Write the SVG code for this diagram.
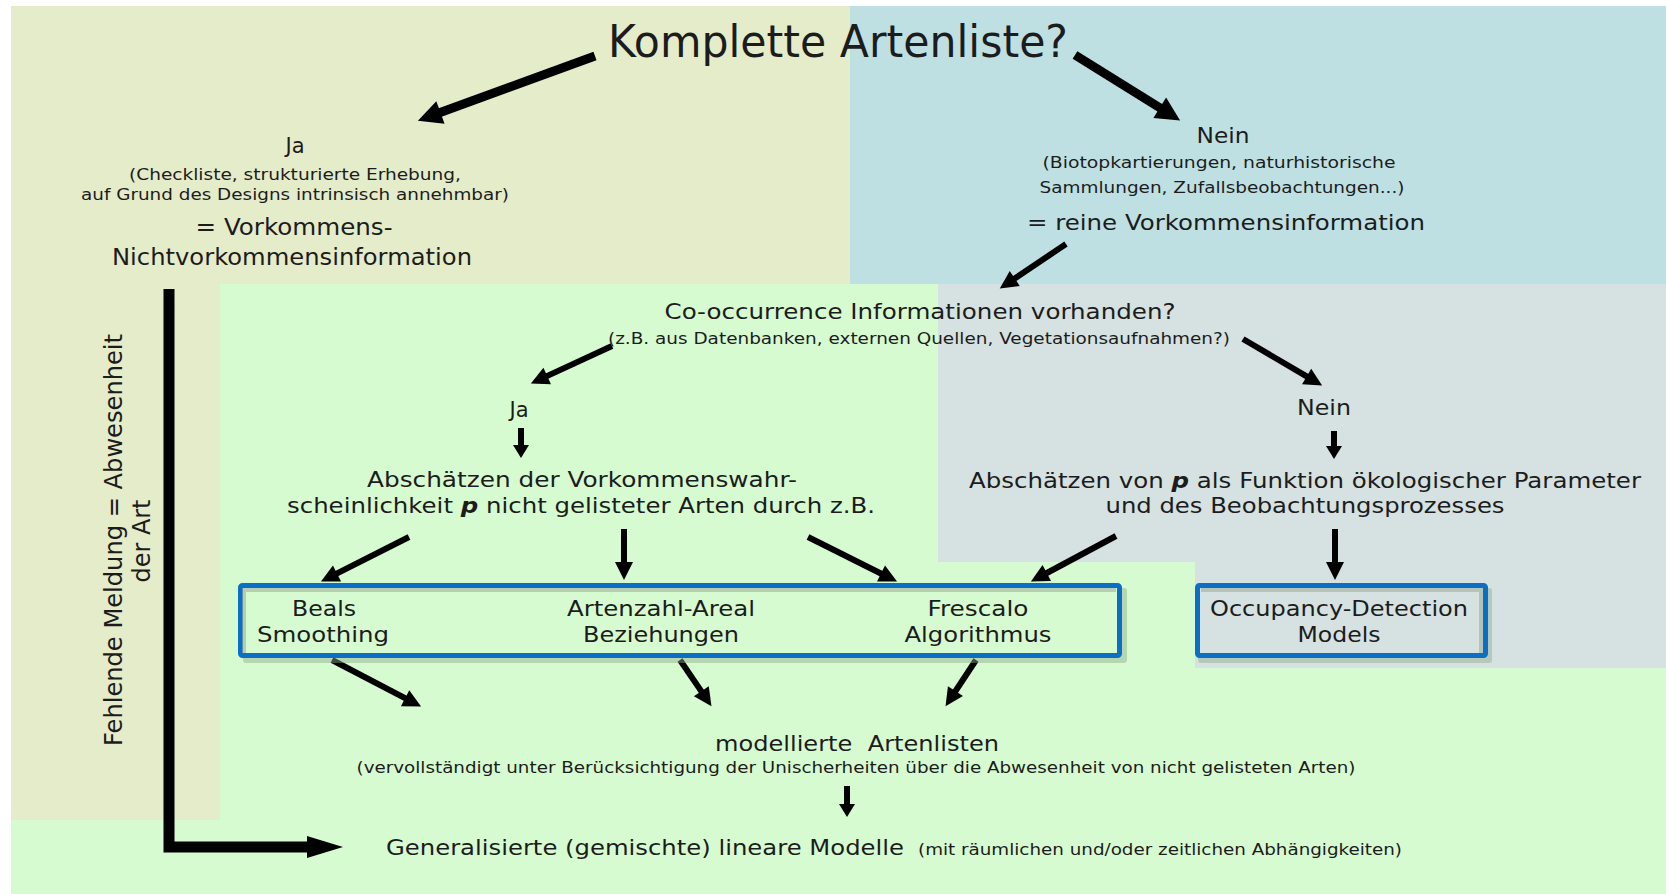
<svg xmlns="http://www.w3.org/2000/svg" width="1666" height="894" viewBox="0 0 1666 894">
<style>
text{font-family:"DejaVu Sans","Verdana","Liberation Sans",sans-serif;fill:#1c1c1c;}
.c{text-anchor:middle;}
.t44{font-size:44px;}
.t23{font-size:23px;}
.t22{font-size:22px;}
.t21{font-size:21px;}
.t16{font-size:16px;}
.t15{font-size:15px;}
.arB{stroke:#000;stroke-width:9;fill:none;marker-end:url(#mBig);}
.arM{stroke:#000;stroke-width:6;fill:none;marker-end:url(#mMed);}
.arS{stroke:#000;stroke-width:6;fill:none;marker-end:url(#mSmall);}
.arL{stroke:#000;stroke-width:11;fill:none;marker-end:url(#mL);}
.box{stroke:#0b6fc6;stroke-width:5;}
.shadow{fill:#8fa88c;opacity:0.45;}
.inner{fill:none;stroke:#9aab98;stroke-width:4;opacity:0.55;}
.pp{font-weight:bold;font-style:italic;}
</style>
<defs>
<marker id="mBig" markerUnits="userSpaceOnUse" markerWidth="24" markerHeight="24" refX="1" refY="12" orient="auto" overflow="visible"><path d="M0,0 L24,12 L0,24 z" fill="#000"/></marker>
<marker id="mMed" markerUnits="userSpaceOnUse" markerWidth="18" markerHeight="18" refX="1" refY="9" orient="auto" overflow="visible"><path d="M0,0 L18,9 L0,18 z" fill="#000"/></marker>
<marker id="mSmall" markerUnits="userSpaceOnUse" markerWidth="13" markerHeight="16" refX="1" refY="8" orient="auto" overflow="visible"><path d="M0,0 L13,8 L0,16 z" fill="#000"/></marker>
<marker id="mL" markerUnits="userSpaceOnUse" markerWidth="36" markerHeight="22" refX="1" refY="11" orient="auto" overflow="visible"><path d="M0,0 L36,11 L0,22 z" fill="#000"/></marker>
</defs>

<g id="background">
<rect x="0" y="0" width="1666" height="894" fill="#ffffff"/>
<rect x="11" y="6" width="1655" height="888" fill="#d7fbd1"/>
<polygon points="11,6 850,6 850,284 220,284 220,820 11,820" fill="#e5ecca"/>
<rect x="850" y="6" width="816" height="278" fill="#bfe0e2"/>
<polygon points="938,284 1666,284 1666,668 1195,668 1195,562 938,562" fill="#d5e2e1"/>
</g>

<g id="connectors">
<line class="arB" x1="595" y1="56" x2="439.5" y2="112.8"/>
<line class="arB" x1="1075" y1="55" x2="1160.6" y2="108.3"/>
<line class="arM" x1="1066" y1="244" x2="1013.9" y2="279"/>
<line class="arM" x1="612" y1="346" x2="546.3" y2="376.4"/>
<line class="arM" x1="1243" y1="339" x2="1307.5" y2="376.9"/>
<line class="arS" x1="521" y1="428" x2="521" y2="446"/>
<line class="arS" x1="1334" y1="431" x2="1334" y2="447"/>
<line class="arM" x1="409" y1="537" x2="336.1" y2="573.9"/>
<line class="arM" x1="624" y1="529" x2="624" y2="563"/>
<line class="arM" x1="808" y1="537" x2="881.9" y2="574"/>
<line class="arM" x1="1116" y1="536" x2="1045.9" y2="573.5"/>
<line class="arM" x1="1335" y1="529" x2="1335" y2="563"/>
<line class="arM" x1="332" y1="660" x2="406" y2="698.7"/>
<line class="arM" x1="680" y1="660" x2="701.9" y2="692.1"/>
<line class="arM" x1="976" y1="660" x2="954.9" y2="692"/>
<line class="arS" x1="847" y1="786" x2="847" y2="805"/>
<path class="arL" d="M169,289 V847 H308"/>
</g>

<g id="title">
<text class="c t44" x="838" y="57" textLength="460" lengthAdjust="spacingAndGlyphs">Komplette Artenliste?</text>
</g>

<g id="ja-top">
<text class="c t21" x="295" y="153">Ja</text>
<text class="c t16" x="295" y="180" textLength="332" lengthAdjust="spacingAndGlyphs">(Checkliste, strukturierte Erhebung,</text>
<text class="c t16" x="295" y="200" textLength="428" lengthAdjust="spacingAndGlyphs">auf Grund des Designs intrinsisch annehmbar)</text>
<text class="c t23" x="294" y="235" textLength="197" lengthAdjust="spacingAndGlyphs">= Vorkommens-</text>
<text class="c t23" x="292" y="265" textLength="360" lengthAdjust="spacingAndGlyphs">Nichtvorkommensinformation</text>
</g>

<g id="nein-top">
<text class="c t21" x="1223" y="143" textLength="53" lengthAdjust="spacingAndGlyphs">Nein</text>
<text class="c t16" x="1219" y="168" textLength="353" lengthAdjust="spacingAndGlyphs">(Biotopkartierungen, naturhistorische</text>
<text class="c t16" x="1222" y="193" textLength="365" lengthAdjust="spacingAndGlyphs">Sammlungen, Zufallsbeobachtungen...)</text>
<text class="c t22" x="1226" y="230" textLength="398" lengthAdjust="spacingAndGlyphs">= reine Vorkommensinformation</text>
</g>

<g id="cooccurrence">
<text class="c t21" x="920" y="319" textLength="511" lengthAdjust="spacingAndGlyphs">Co-occurrence Informationen vorhanden?</text>
<text class="c t15" x="919" y="344" textLength="622" lengthAdjust="spacingAndGlyphs">(z.B. aus Datenbanken, externen Quellen, Vegetationsaufnahmen?)</text>
</g>

<g id="ja-mid">
<text class="c t21" x="519" y="417">Ja</text>
</g>

<g id="abschaetzen-ja">
<text class="c t21" x="582" y="487" textLength="430" lengthAdjust="spacingAndGlyphs">Abschätzen der Vorkommenswahr-</text>
<text class="c t21" x="581" y="513" textLength="588" lengthAdjust="spacingAndGlyphs">scheinlichkeit <tspan class="pp">p</tspan> nicht gelisteter Arten durch z.B.</text>
</g>

<g id="nein-mid">
<text class="c t21" x="1324" y="415" textLength="54" lengthAdjust="spacingAndGlyphs">Nein</text>
</g>

<g id="abschaetzen-nein">
<text class="c t21" x="1305" y="488" textLength="672" lengthAdjust="spacingAndGlyphs">Abschätzen von <tspan class="pp">p</tspan> als Funktion ökologischer Parameter</text>
<text class="c t21" x="1305" y="513" textLength="399" lengthAdjust="spacingAndGlyphs">und des Beobachtungsprozesses</text>
</g>

<g id="methods-box">
<rect class="shadow" x="243" y="588" width="884" height="75" rx="3"/>
<rect class="box" x="240.5" y="585.5" width="879" height="70" rx="2" fill="#d7fbd1"/>
<path class="inner" d="M244,653 V590 H1116"/>
<text class="c t22" x="324" y="616" textLength="64" lengthAdjust="spacingAndGlyphs">Beals</text>
<text class="c t22" x="323" y="642" textLength="132" lengthAdjust="spacingAndGlyphs">Smoothing</text>
<text class="c t22" x="661" y="616" textLength="188" lengthAdjust="spacingAndGlyphs">Artenzahl-Areal</text>
<text class="c t22" x="661" y="642" textLength="156" lengthAdjust="spacingAndGlyphs">Beziehungen</text>
<text class="c t22" x="978" y="616" textLength="101" lengthAdjust="spacingAndGlyphs">Frescalo</text>
<text class="c t22" x="978" y="642" textLength="147" lengthAdjust="spacingAndGlyphs">Algorithmus</text>
</g>

<g id="occupancy-box">
<rect class="shadow" x="1198" y="588" width="294" height="75" rx="3"/>
<rect class="box" x="1197.5" y="585.5" width="288" height="70" rx="2" fill="#d5e2e1"/>
<path class="inner" d="M1201,590 H1481 V653"/>
<text class="c t22" x="1339" y="616" textLength="258" lengthAdjust="spacingAndGlyphs">Occupancy-Detection</text>
<text class="c t22" x="1339" y="642" textLength="83" lengthAdjust="spacingAndGlyphs">Models</text>
</g>

<g id="modellierte">
<text class="c t21" x="857" y="751" textLength="284" lengthAdjust="spacingAndGlyphs" xml:space="preserve">modellierte  Artenlisten</text>
<text class="c t15" x="856" y="773" textLength="999" lengthAdjust="spacingAndGlyphs">(vervollständigt unter Berücksichtigung der Unischerheiten über die Abwesenheit von nicht gelisteten Arten)</text>
</g>

<g id="glm">
<text class="t21" x="386" y="855" textLength="518" lengthAdjust="spacingAndGlyphs">Generalisierte (gemischte) lineare Modelle</text>
<text class="t16" x="918" y="855" textLength="484" lengthAdjust="spacingAndGlyphs">(mit räumlichen und/oder zeitlichen Abhängigkeiten)</text>
</g>

<g id="fehlende-meldung">
<text class="c" font-size="24" transform="translate(122,540) rotate(-90)" x="0" y="0" textLength="412" lengthAdjust="spacingAndGlyphs">Fehlende Meldung = Abwesenheit</text>
<text class="c" font-size="24" transform="translate(150,541) rotate(-90)" x="0" y="0" textLength="83" lengthAdjust="spacingAndGlyphs">der Art</text>
</g>
</svg>
